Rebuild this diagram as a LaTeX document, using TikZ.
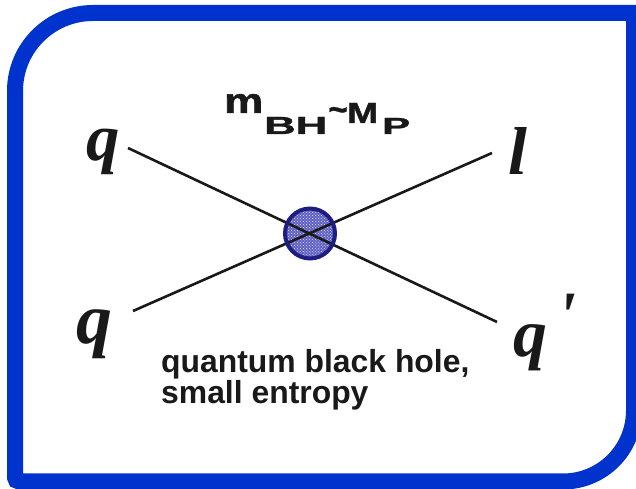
\documentclass[tikz,border=0pt]{standalone}
\usepackage{fontspec}
\usepackage{graphicx}
\setmainfont{Liberation Serif}
\newfontfamily\lserif{Liberation Serif}
\newfontfamily\lsans{Liberation Sans}
\newfontfamily\lsansheavy{Liberation Sans Bold}[FakeBold=1.2]
\usetikzlibrary{patterns}
\definecolor{frameblue}{RGB}{0,50,205}
\definecolor{bhnavy}{RGB}{30,30,130}
\definecolor{bhfill}{RGB}{95,95,195}
\definecolor{ink}{RGB}{25,25,25}
\begin{document}
\begin{tikzpicture}[x=1bp,y=1bp,
  frame/.style={draw=frameblue,line width=16bp},
  leg/.style={draw=ink,line width=2.6bp},
  letter/.style={anchor=base west,inner sep=0pt,text=ink,font=\lserif\bfseries\itshape\fontsize{#1}{#1}\selectfont},
  ttl/.style={anchor=base west,inner sep=0pt,text=ink,font=\lsansheavy\fontsize{30}{30}\selectfont},
  blob/.style={circle,inner sep=0pt,minimum size=50bp,preaction={fill=bhfill},pattern=crosshatch dots,pattern color=white!85!bhfill},
  ring/.style={draw=bhnavy,line width=4bp}]
\useasboundingbox (0,0) rectangle (636,489);
% frame
\draw[frame] (15,11.5) -- (15,398) arc[start angle=180,end angle=90,radius=78]
  -- (634,476) -- (634,78.5) arc[start angle=0,end angle=-90,radius=71]
  -- (19,7.5) arc[start angle=270,end angle=180,radius=4] -- cycle;
% black hole
\node[blob] (bh) at (310,255.5) {};
% legs
\coordinate (a1) at (128,341);
\coordinate (a2) at (497,167);
\coordinate (b1) at (133,178);
\coordinate (b2) at (492,336);
\draw[leg] (a1) -- (a2);
\draw[leg] (b1) -- (b2);
\draw[ring] (bh.center) circle[radius=25];
% particle labels
\node[letter=67] (q1) at (86,328) {q};
\node[letter=72] (q2) at (76,145) {q};
\node[letter=68] (l) at (508,314) {l};
\node[letter=68] (qp) at (513,132) {q\hspace{10bp}\raisebox{18bp}{\textquotesingle}};
% title m_BH ~ M_P
\node[ttl] (m) at (224,376) {\resizebox{39bp}{19bp}{m}};
\node[ttl] (bhsub) at (264,355) {\resizebox{63bp}{17bp}{BH}};
\node[ttl,font=\lsansheavy\fontsize{34}{34}\selectfont] (tl) at (328,368) {\textasciitilde};
\node[ttl] (Mp) at (347,366) {\resizebox{31bp}{20bp}{M}};
\node[ttl] (Psub) at (382,355) {\resizebox{28bp}{16bp}{P}};
% caption
\node[anchor=north west,inner sep=0pt,align=left,text=ink,font=\lsans\bfseries\fontsize{32}{27}\selectfont] (cap) at (161,140) {quantum black hole,\\small entropy};
\end{tikzpicture}
\end{document}
